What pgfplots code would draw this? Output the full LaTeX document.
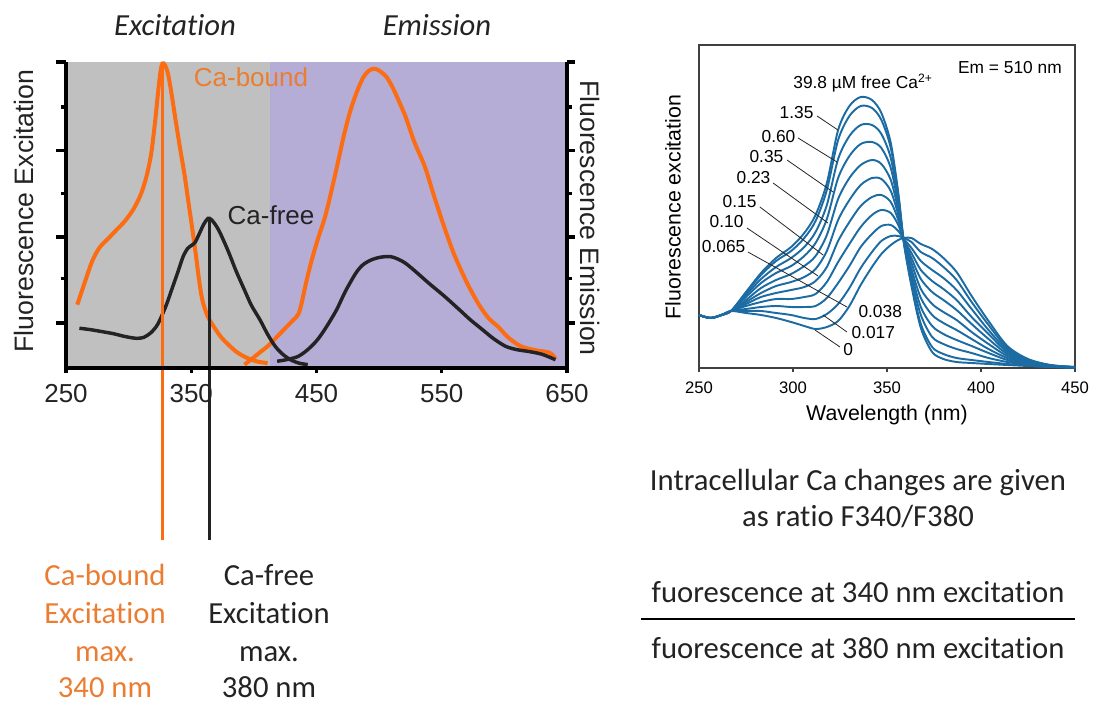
\documentclass[border=0pt]{standalone}
\usepackage{fontspec}
\setmainfont{Liberation Sans}
\newfontfamily\calibri{Carlito}[Ligatures=NoCommon]
\usepackage{pgfplots}
\pgfplotsset{compat=1.18}
\usepackage{pgfplotstable}

\definecolor{exorange}{RGB}{252,108,18}
\definecolor{txtorange}{RGB}{234,125,50}
\definecolor{bggray}{RGB}{192,192,192}
\definecolor{bgpurple}{RGB}{181,173,214}
\definecolor{curveblue}{RGB}{28,108,163}
\definecolor{darktxt}{RGB}{35,35,35}

% excitation spectra at increasing free Ca (columns a = 0 ... k = 39.8 uM)
\pgfplotstableread{
lam a b c d e f g h i j k
250 53 53 53 53 53 53 53 53 53 53 53
256 50 50 50 50 50 50 50 50 50 50 50
262 53 53 53 53 53 53 53 53 53 53 53
267 57 57 57 57 57 57 57 57 57 57 57
275 55 57 59 62 64 66 68 71 73 75 76
283 53 57 61 66 71 75 80 85 89 93 95
291 50 55 62 69 75 82 88 95 101 107 110
299 46 53 61 69 78 86 94 102 110 117 121
306 42 50 61 71 81 91 102 112 121 130 135
312 39 49 62 74 87 99 112 125 136 147 153
318 41 54 70 86 101 117 133 149 163 178 185
324 47 64 85 106 127 148 169 190 209 228 238
330 62 80 102 124 146 168 190 212 232 252 262
336 83 100 121 141 162 183 203 224 243 262 271
342 101 116 134 153 171 190 208 226 243 260 268
347 114 127 142 158 173 189 204 220 234 248 255
352 123 132 143 155 166 177 188 200 210 220 225
356 128 132 137 143 148 153 158 163 168 173 175
359 130 130 129 128 128 127 127 126 126 125 125
363 130 126 120 115 110 105 99 94 89 84 82
368 124 116 107 98 89 79 70 61 53 44 40
374 119 110 98 87 76 64 53 42 31 21 16
380 110 101 90 79 68 56 45 34 24 14 9
387 96 88 78 68 58 48 38 28 19 10 6
395 72 66 59 51 44 36 29 22 15 8 5
404 47 43 38 34 29 24 19 15 10 6 4
414 22 20 18 16 14 12 10 8 6 4 3
425 9 8.4 7.6 6.8 6.1 5.3 4.5 3.8 3.1 2.4 2
437 3 2.8 2.6 2.4 2.2 1.9 1.7 1.5 1.3 1.1 1
450 1 1 0.9 0.8 0.8 0.7 0.7 0.6 0.6 0.5 0.5
}\furatable

\begin{document}
\begin{tikzpicture}[x=0.75pt,y=0.75pt]
\useasboundingbox (0,0) rectangle (1094,704);

% ---------- left: excitation / emission ----------
\begin{axis}[at={(49.5pt,252pt)}, anchor=south west, scale only axis,
  width=375.75pt, height=229.5pt,
  xmin=250, xmax=650, ymin=0, ymax=1, clip=false,
  axis x line*=bottom, axis y line=none,
  axis line style={-, line width=2.3pt, black},
  xtick={250,350,450,550,650}, ytick=\empty,
  tick align=outside, major tick length=4pt,
  xtick style={line width=2.3pt, black},
  /pgf/number format/assume math mode=true,
  xticklabel style={font=\fontsize{19.5}{22}\selectfont, text=darktxt, yshift=-5pt},
  axis on top]
\addplot[draw=none, fill=bggray] coordinates {(250,1) (413,1)} \closedcycle;
\addplot[draw=none, fill=bgpurple] coordinates {(413,1) (650,1)} \closedcycle;
% Ca-bound excitation
\addplot[exorange, line width=3pt, smooth] coordinates {
(259,0.207) (265,0.28) (271,0.35) (277,0.395) (283,0.42) (290,0.45) (297,0.48)
(304,0.52) (310,0.57) (314.5,0.63) (318,0.70) (321,0.80) (323.5,0.90) (325.5,0.97)
(327,0.995) (329,0.99) (331.5,0.96) (334.5,0.89) (337.5,0.81) (341,0.72) (344.5,0.635)
(348,0.535) (351,0.45) (354,0.36) (356.5,0.28) (359,0.22) (363,0.17) (368,0.135)
(374,0.10) (380,0.075) (386,0.053) (392,0.038) (398,0.027) (404,0.02) (411,0.016)};
% Ca-bound emission
\addplot[exorange, line width=3pt, smooth] coordinates {
(392.5,0.011) (400,0.035) (406,0.055) (411,0.071) (418,0.10) (425,0.13) (431,0.155)
(435.4,0.175) (438,0.21) (441.6,0.277) (446,0.35) (451,0.42) (456.9,0.495) (462,0.58)
(467,0.67) (472.2,0.766) (477,0.84) (482,0.90) (487.5,0.951) (492,0.972) (496.1,0.978)
(500,0.972) (505.9,0.951) (511,0.915) (516,0.87) (521.2,0.82) (528,0.74) (536.6,0.657)
(544,0.56) (551.9,0.462) (560,0.37) (570.3,0.277) (580,0.205) (588,0.16) (594.8,0.136)
(603,0.10) (613.2,0.071) (625,0.058) (636,0.05) (641,0.03)};
% Ca-free excitation
\addplot[darktxt, line width=2.6pt, smooth] coordinates {
(260.7,0.13) (270,0.125) (280,0.118) (288,0.112) (297,0.103) (306,0.097) (312,0.10)
(317.4,0.114) (322,0.135) (325.1,0.158) (330,0.205) (334.3,0.255) (339,0.31)
(343.5,0.364) (347,0.39) (350,0.40) (353,0.41) (356,0.435) (360,0.47) (363.4,0.489)
(366,0.485) (369,0.47) (372,0.45) (376,0.415) (380.2,0.375) (386,0.315) (392.5,0.255)
(398,0.205) (404.8,0.158) (411,0.11) (417,0.071) (423,0.045) (429.3,0.027) (436,0.016)
(443,0.011)};
% Ca-free emission
\addplot[darktxt, line width=2.6pt, smooth] coordinates {
(418.6,0.022) (427,0.028) (435.4,0.038) (443,0.06) (450.7,0.092) (458,0.135) (466,0.19)
(473,0.25) (481.4,0.31) (487,0.337) (493.6,0.353) (501,0.362) (509,0.364) (515,0.356)
(521.2,0.342) (530,0.312) (539.7,0.277) (552,0.235) (564.2,0.19) (573,0.157)
(582.6,0.125) (591,0.097) (600.9,0.071) (610,0.06) (619.3,0.054) (630,0.045)
(640.8,0.027)};
% excitation maxima markers
\addplot[exorange, line width=2.2pt] coordinates {(327.2,0.995) (327.2,-0.562)};
\addplot[darktxt, line width=1.8pt] coordinates {(364.5,0.489) (364.5,-0.562)};
\end{axis}

% left y axis
\begin{axis}[at={(49.5pt,252pt)}, anchor=south west, scale only axis,
  width=375.75pt, height=229.5pt,
  xmin=250, xmax=650, ymin=0, ymax=1,
  axis x line=none, axis y line*=left, xtick=\empty,
  axis line style={-, line width=2.3pt, black},
  ytick={0.147,0.428,0.712,1}, minor ytick={0.291,0.569,0.853},
  yticklabels={}, tick align=outside,
  major tick length=7.5pt, minor tick length=4pt,
  tick style={line width=2.3pt, black}]
\end{axis}

% right y axis
\begin{axis}[at={(49.5pt,252pt)}, anchor=south west, scale only axis,
  width=375.75pt, height=229.5pt,
  xmin=250, xmax=650, ymin=0, ymax=1,
  axis x line=none, axis y line*=right, xtick=\empty,
  axis line style={-, line width=2.3pt, black},
  ytick={0.147,0.428,0.712,1}, minor ytick={0.291,0.569,0.853},
  yticklabels={}, tick align=outside,
  major tick length=6pt, minor tick length=3.5pt,
  tick style={line width=2.3pt, black}]
\end{axis}

\node[font=\calibri\itshape\fontsize{23}{28}\selectfont, text=darktxt] at (175,679) {Excitation};
\node[font=\calibri\itshape\fontsize{23}{28}\selectfont, text=darktxt] at (437,679) {Emission};
\node[rotate=90, font=\fontsize{20}{24}\selectfont, text=darktxt] at (24,493) {Fluorescence Excitation};
\node[rotate=-90, font=\fontsize{20}{24}\selectfont, text=darktxt] at (590,486) {Fluorescence Emission};
\node[font=\fontsize{19.5}{23}\selectfont, text=txtorange] at (251,627) {Ca-bound};
\node[font=\fontsize{19.5}{23}\selectfont, text=darktxt] at (271,489) {Ca-free};

\begin{scope}[font=\calibri\fontsize{23}{28}\selectfont, inner sep=0pt]
\node[text=txtorange, anchor=base] at (105,119) {Ca-bound};
\node[text=txtorange, anchor=base] at (105,81) {Excitation};
\node[text=txtorange, anchor=base] at (105,43) {max.};
\node[text=txtorange, anchor=base] at (105,7) {340 nm};
\node[text=darktxt, anchor=base] at (269,119) {Ca-free};
\node[text=darktxt, anchor=base] at (269,81) {Excitation};
\node[text=darktxt, anchor=base] at (269,43) {max.};
\node[text=darktxt, anchor=base] at (269,7) {380 nm};
\end{scope}

% ---------- right: fura-2 excitation spectra ----------
\begin{axis}[at={(524.25pt,252pt)}, anchor=south west, scale only axis,
  width=282pt, height=242.25pt,
  xmin=250, xmax=450, ymin=0, ymax=323, clip=false,
  axis line style={line width=0.8pt, black!75},
  xtick={250,300,...,450}, ytick=\empty, xtick pos=left,
  tick align=outside, major tick length=3pt,
  xtick style={line width=0.8pt, black!75},
  /pgf/number format/assume math mode=true,
  xticklabel style={font=\fontsize{12.5}{14}\selectfont, yshift=-4pt}]
\pgfplotsinvokeforeach{a,b,c,d,e,f,g,h,i,j,k}{
  \addplot[curveblue, line width=1.45pt, smooth] table[x=lam, y=#1] {\furatable};
}
\begin{scope}[black!85, line width=0.6pt]
\draw (axis cs:312.8,252) -- (axis cs:323.9,238);
\draw (axis cs:302.7,230) -- (axis cs:323.4,206);
\draw (axis cs:296.8,208) -- (axis cs:321.3,176);
\draw (axis cs:289.4,185) -- (axis cs:318.6,145);
\draw (axis cs:282.4,161) -- (axis cs:316,113);
\draw (axis cs:275.5,140) -- (axis cs:313.3,92);
\draw (axis cs:276,116) -- (axis cs:328.7,61);
\draw (axis cs:328.7,36) -- (axis cs:316,53);
\draw (axis cs:325,21) -- (axis cs:311.7,38);
\end{scope}
\begin{scope}[font=\fontsize{13}{15}\selectfont]
\node[anchor=east, inner sep=1pt] at (axis cs:311.7,255) {1.35};
\node[anchor=east, inner sep=1pt] at (axis cs:302.1,231) {0.60};
\node[anchor=east, inner sep=1pt] at (axis cs:295.7,211) {0.35};
\node[anchor=east, inner sep=1pt] at (axis cs:288.8,190) {0.23};
\node[anchor=east, inner sep=1pt] at (axis cs:281.4,166) {0.15};
\node[anchor=east, inner sep=1pt] at (axis cs:274.5,146) {0.10};
\node[anchor=east, inner sep=1pt] at (axis cs:275.5,121) {0.065};
\node[anchor=west, inner sep=1pt] at (axis cs:334,56) {0.038};
\node[anchor=west, inner sep=1pt] at (axis cs:330.3,35) {0.017};
\node[anchor=west, inner sep=1pt] at (axis cs:326,18) {0};
\node at (axis cs:337.2,285) {39.8 µM free Ca\textsuperscript{2+}};
\node at (axis cs:415.4,300) {Em = 510 nm};
\end{scope}
\end{axis}
\node[font=\fontsize{16}{19}\selectfont] at (887,289) {Wavelength (nm)};
\node[rotate=90, font=\fontsize{16}{19}\selectfont] at (673,497) {Fluorescence excitation};

\node[font=\calibri\fontsize{23}{28}\selectfont, text=darktxt] at (858,222) {Intracellular Ca changes are given};
\node[font=\calibri\fontsize{23}{28}\selectfont, text=darktxt] at (858,187) {as ratio F340/F380};
\node[font=\calibri\fontsize{23}{28}\selectfont, text=darktxt] at (858,112) {fuorescence at 340 nm excitation};
\draw[line width=1.5pt, black] (641,85) -- (1075,85);
\node[font=\calibri\fontsize{23}{28}\selectfont, text=darktxt] at (858,56) {fuorescence at 380 nm excitation};
\end{tikzpicture}
\end{document}
